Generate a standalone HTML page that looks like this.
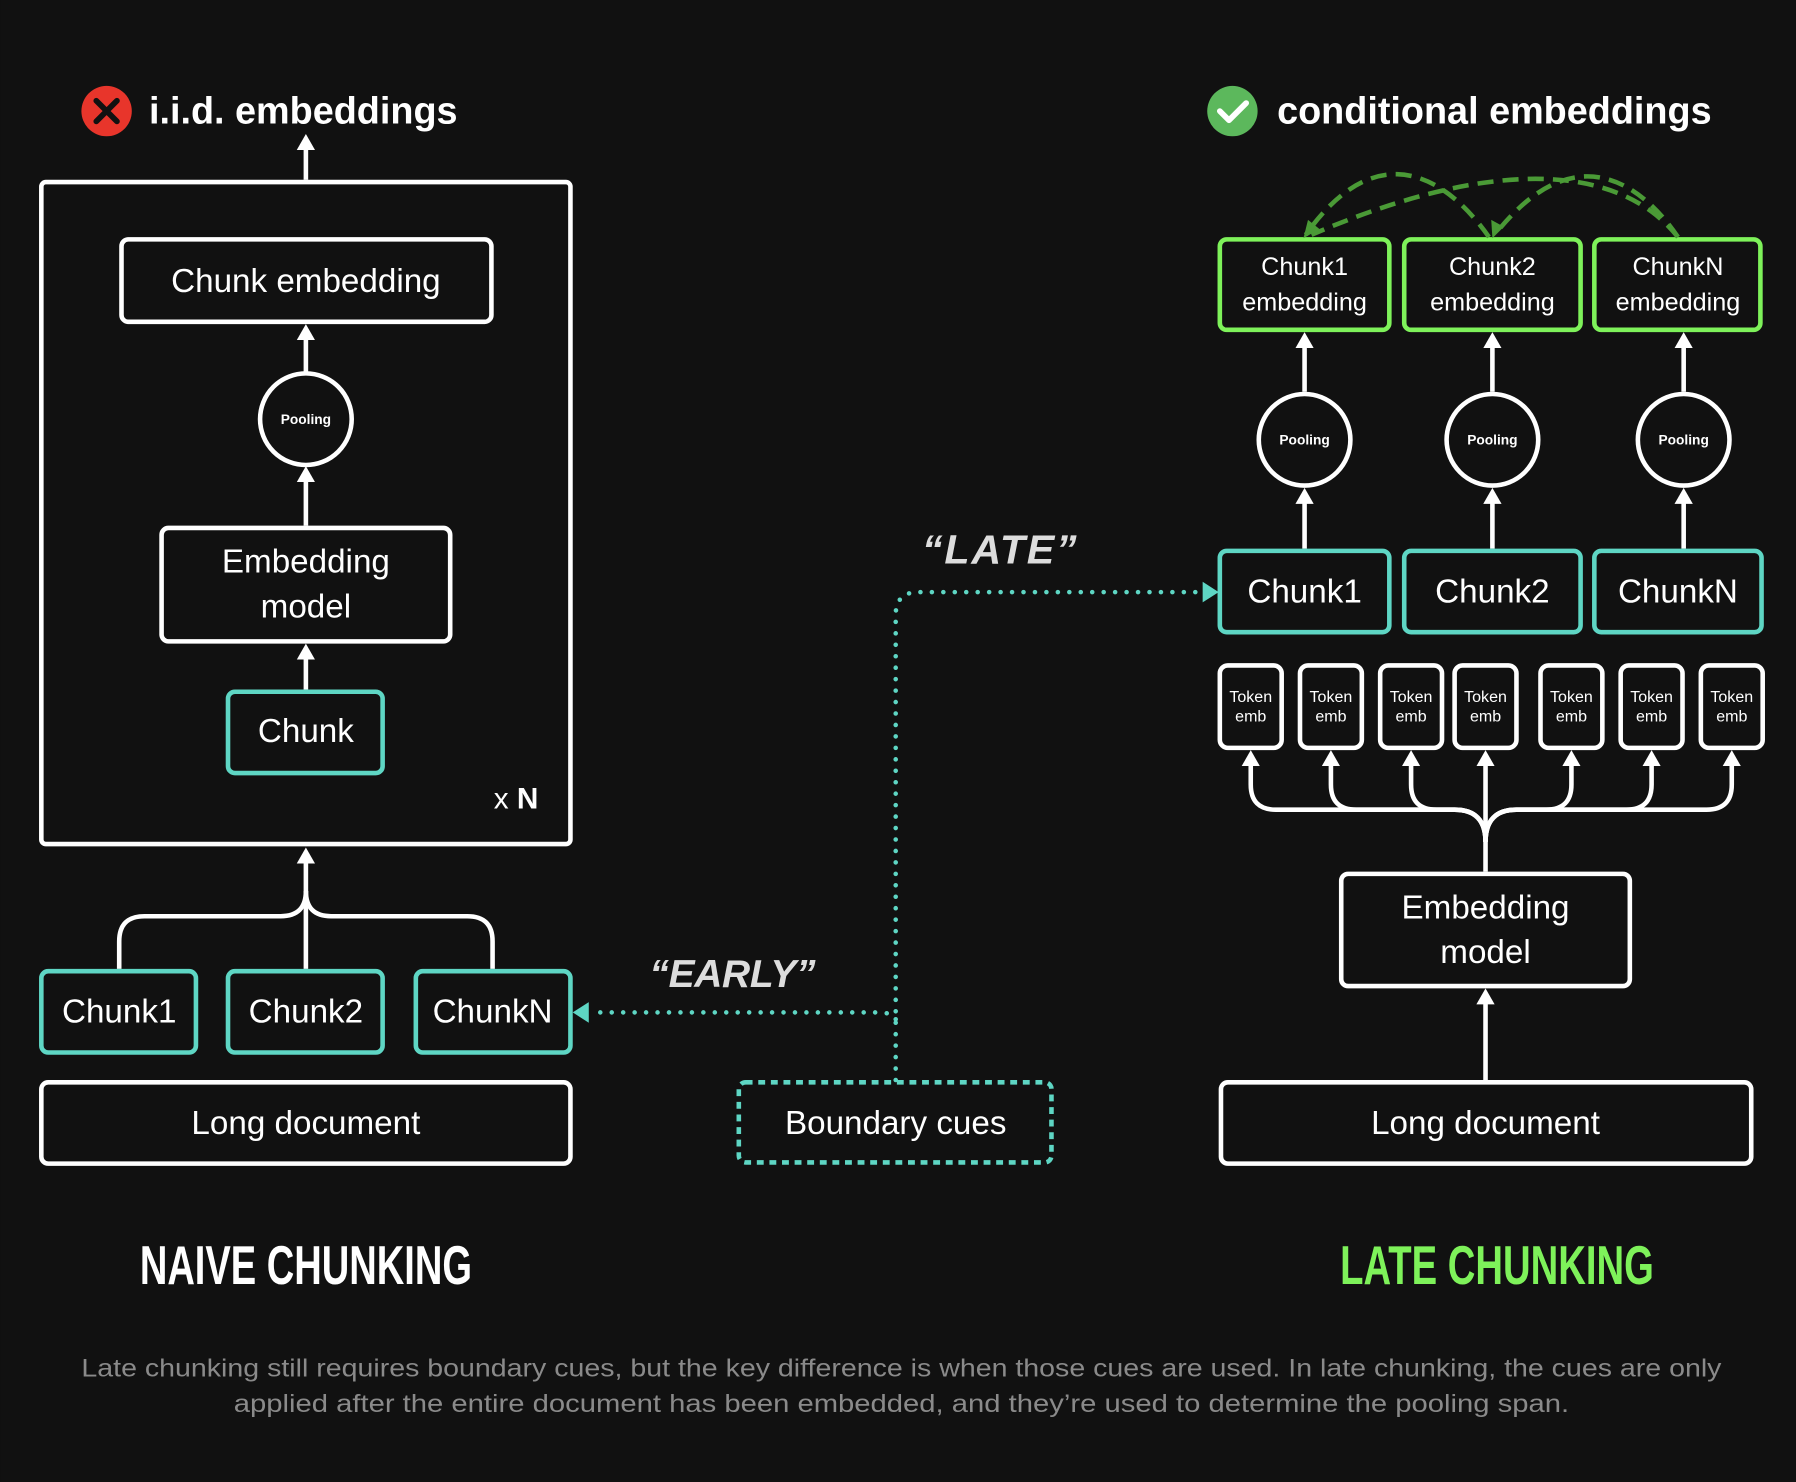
<!DOCTYPE html>
<html><head><meta charset="utf-8"><style>
html,body{margin:0;padding:0;background:#111111;}
svg{display:block;}
text{font-family:"Liberation Sans",sans-serif;fill:#fff;}
</style></head><body>
<svg width="1796" height="1482" viewBox="0 0 1568 1294" xmlns="http://www.w3.org/2000/svg">
<rect width="1568" height="1294" fill="#111111"/>
<defs>
<marker id="ah" markerWidth="16" markerHeight="14" refX="8" refY="5" orient="0" markerUnits="userSpaceOnUse" viewBox="0 0 16 14"><path d="M0,14 L8,0 L16,14 Z" fill="#fff"/></marker>
</defs>
<g fill="none" stroke="#fff" stroke-width="4">
<rect x="36" y="159" width="462" height="578" rx="4"/>
<rect x="106" y="209" width="323" height="72" rx="6"/>
<circle cx="267" cy="366" r="40"/>
<rect x="141" y="461" width="252" height="99" rx="6"/>
<rect x="36" y="945" width="462" height="71" rx="6"/>
<rect x="1171" y="763" width="252" height="98" rx="6"/>
<rect x="1066" y="945" width="463" height="71" rx="6"/>
<circle cx="1139" cy="384" r="40"/>
<circle cx="1303" cy="384" r="40"/>
<circle cx="1470" cy="384" r="40"/>
<rect x="1065" y="581" width="54" height="72" rx="7"/>
<rect x="1135" y="581" width="54" height="72" rx="7"/>
<rect x="1205" y="581" width="54" height="72" rx="7"/>
<rect x="1270" y="581" width="54" height="72" rx="7"/>
<rect x="1345" y="581" width="54" height="72" rx="7"/>
<rect x="1415" y="581" width="54" height="72" rx="7"/>
<rect x="1485" y="581" width="54" height="72" rx="7"/>
</g>
<g fill="none" stroke="#fff" stroke-width="4">
<line x1="267" y1="157" x2="267" y2="122" marker-end="url(#ah)"/>
<line x1="267" y1="326" x2="267" y2="288" marker-end="url(#ah)"/>
<line x1="267" y1="459" x2="267" y2="412" marker-end="url(#ah)"/>
<line x1="267" y1="602" x2="267" y2="567" marker-end="url(#ah)"/>
<line x1="267" y1="846" x2="267" y2="745" marker-end="url(#ah)"/>
<path d="M104,846 V822 Q104,800 126,800 H245 Q267,800 267,778"/>
<path d="M430,846 V822 Q430,800 408,800 H289 Q267,800 267,778"/>
<line x1="1297" y1="943" x2="1297" y2="868" marker-end="url(#ah)"/>
<line x1="1297" y1="761" x2="1297" y2="660" marker-end="url(#ah)"/>
<path d="M1297,735 Q1297,707 1270,707 H1114 Q1092,707 1092,685 V660" marker-end="url(#ah)"/>
<path d="M1297,735 Q1297,707 1270,707 H1184 Q1162,707 1162,685 V660" marker-end="url(#ah)"/>
<path d="M1297,735 Q1297,707 1270,707 H1254 Q1232,707 1232,685 V660" marker-end="url(#ah)"/>
<path d="M1297,735 Q1297,707 1324,707 H1350 Q1372,707 1372,685 V660" marker-end="url(#ah)"/>
<path d="M1297,735 Q1297,707 1324,707 H1420 Q1442,707 1442,685 V660" marker-end="url(#ah)"/>
<path d="M1297,735 Q1297,707 1324,707 H1490 Q1512,707 1512,685 V660" marker-end="url(#ah)"/>
<line x1="1139" y1="479" x2="1139" y2="431" marker-end="url(#ah)"/>
<line x1="1303" y1="479" x2="1303" y2="431" marker-end="url(#ah)"/>
<line x1="1470" y1="479" x2="1470" y2="431" marker-end="url(#ah)"/>
<line x1="1139" y1="342" x2="1139" y2="295" marker-end="url(#ah)"/>
<line x1="1303" y1="342" x2="1303" y2="295" marker-end="url(#ah)"/>
<line x1="1470" y1="342" x2="1470" y2="295" marker-end="url(#ah)"/>
</g>
<g fill="none" stroke="#5ed6c4" stroke-width="4">
<rect x="199" y="604" width="135" height="71" rx="6"/>
<rect x="36" y="848" width="135" height="71" rx="6"/>
<rect x="199" y="848" width="135" height="71" rx="6"/>
<rect x="363" y="848" width="135" height="71" rx="6"/>
<rect x="1065" y="481" width="148" height="71" rx="6"/>
<rect x="1226" y="481" width="154" height="71" rx="6"/>
<rect x="1392" y="481" width="146" height="71" rx="6"/>
<rect x="645" y="945" width="273" height="70" rx="6" stroke-dasharray="6,5"/>
<path d="M782,943 V537 Q782,517 802,517 H1050" stroke-dasharray="0,10" stroke-linecap="round"/>
<path d="M782,890 Q780,884 766,884 H520" stroke-dasharray="0,10" stroke-linecap="round"/>
</g>
<polygon points="1064,517 1050,508 1050,526" fill="#5ed6c4"/>
<polygon points="500,884 514,875 514,893" fill="#5ed6c4"/>
<g fill="none" stroke="#7ef25a" stroke-width="4">
<rect x="1065" y="209" width="148" height="79" rx="6"/>
<rect x="1226" y="209" width="154" height="79" rx="6"/>
<rect x="1392" y="209" width="145" height="79" rx="6"/>
</g>
<g fill="none" stroke="#4a9a36" stroke-width="4" stroke-dasharray="14,8">
<path d="M1300,207 C1260,150 1200,120 1140,205"/>
<path d="M1465,207 C1420,150 1320,130 1145,205"/>
<path d="M1465,207 C1440,170 1380,110 1305,205"/>
</g>
<polygon points="1138,208 1142,192 1152,200" fill="#4a9a36"/>
<polygon points="1303,208 1302,192 1313,198" fill="#4a9a36"/>
<circle cx="93" cy="97" r="22" fill="#e8352b"/>
<path d="M84,88 L102,106 M102,88 L84,106" stroke="#111" stroke-width="5" stroke-linecap="round"/>
<circle cx="1076" cy="97" r="22" fill="#5cb85c"/>
<path d="M1065,97 L1073,105 L1088,90" stroke="#fff" stroke-width="5" fill="none" stroke-linecap="round" stroke-linejoin="round"/>
<text x="130" y="108" font-size="33" font-weight="bold">i.i.d. embeddings</text>
<text x="1115" y="108" font-size="33" font-weight="bold">conditional embeddings</text>
<g font-size="29" text-anchor="middle">
<text x="267" y="255">Chunk embedding</text>
<text x="267" y="500">Embedding</text>
<text x="267" y="539">model</text>
<text x="267" y="648">Chunk</text>
<text x="104" y="893">Chunk1</text>
<text x="267" y="893">Chunk2</text>
<text x="430" y="893">ChunkN</text>
<text x="267" y="990">Long document</text>
<text x="782" y="990">Boundary cues</text>
<text x="1297" y="990">Long document</text>
<text x="1297" y="802">Embedding</text>
<text x="1297" y="841">model</text>
<text x="1139" y="526">Chunk1</text>
<text x="1303" y="526">Chunk2</text>
<text x="1465" y="526">ChunkN</text>
</g>
<text x="431" y="706" font-size="26">x <tspan font-weight="bold">N</tspan></text>
<g font-size="22" text-anchor="middle">
<text x="1139" y="240">Chunk1</text><text x="1139" y="271">embedding</text>
<text x="1303" y="240">Chunk2</text><text x="1303" y="271">embedding</text>
<text x="1465" y="240">ChunkN</text><text x="1465" y="271">embedding</text>
</g>
<g font-size="12" font-weight="bold" text-anchor="middle">
<text x="267" y="370">Pooling</text>
<text x="1139" y="388">Pooling</text>
<text x="1303" y="388">Pooling</text>
<text x="1470" y="388">Pooling</text>
</g>
<g font-size="14" text-anchor="middle">
<text x="1092" y="613">Token</text><text x="1092" y="630">emb</text>
<text x="1162" y="613">Token</text><text x="1162" y="630">emb</text>
<text x="1232" y="613">Token</text><text x="1232" y="630">emb</text>
<text x="1297" y="613">Token</text><text x="1297" y="630">emb</text>
<text x="1372" y="613">Token</text><text x="1372" y="630">emb</text>
<text x="1442" y="613">Token</text><text x="1442" y="630">emb</text>
<text x="1512" y="613">Token</text><text x="1512" y="630">emb</text>
</g>
<text x="805" y="492" font-size="36" font-weight="bold" font-style="italic" style="fill:#ddd" textLength="135">“LATE”</text>
<text x="567" y="862" font-size="34" font-weight="bold" font-style="italic" style="fill:#ddd" textLength="145">“EARLY”</text>
<text x="122" y="1121" font-size="48" font-weight="bold" textLength="290" lengthAdjust="spacingAndGlyphs">NAIVE CHUNKING</text>
<text x="1170" y="1121" font-size="48" font-weight="bold" textLength="274" lengthAdjust="spacingAndGlyphs" style="fill:#7ef25a">LATE CHUNKING</text>
<g font-size="22" text-anchor="middle">
<text x="787" y="1202" style="fill:#8a8a8a" textLength="1432" lengthAdjust="spacingAndGlyphs">Late chunking still requires boundary cues, but the key difference is when those cues are used. In late chunking, the cues are only</text>
<text x="787" y="1233" style="fill:#8a8a8a" textLength="1166" lengthAdjust="spacingAndGlyphs">applied after the entire document has been embedded, and they’re used to determine the pooling span.</text>
</g>
</svg>
</body></html>
